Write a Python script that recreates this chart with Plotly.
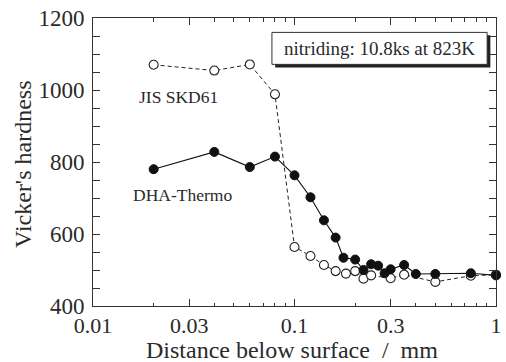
import plotly.graph_objects as go

# Data
jis_x = [0.02, 0.04, 0.06, 0.08, 0.10, 0.12, 0.14, 0.16, 0.18, 0.20, 0.22, 0.24, 0.30, 0.35, 0.50, 0.75, 1.00]
jis_y = [1070, 1054, 1071, 988, 564, 539, 514, 497, 490, 497, 476, 485, 477, 487, 467, 484, 487]

dha_x = [0.02, 0.04, 0.06, 0.08, 0.10, 0.12, 0.14, 0.16, 0.175, 0.20, 0.22, 0.24, 0.26, 0.28, 0.30, 0.35, 0.40, 0.50, 0.75, 1.00]
dha_y = [780, 828, 786, 815, 763, 702, 638, 590, 534, 529, 500, 516, 512, 491, 502, 514, 489, 489, 491, 485]

x_major_ticks = [0.01, 0.03, 0.1, 0.3, 1]
x_major_labels = ["0.01", "0.03", "0.1", "0.3", "1"]
x_minor_ticks = [0.02, 0.04, 0.05, 0.06, 0.07, 0.08, 0.09,
                 0.2, 0.4, 0.5, 0.6, 0.7, 0.8, 0.9]

FONT = "Liberation Serif"
AX = "#333333"
TXT = "#2a2a2a"

fig = go.Figure()

fig.add_trace(go.Scatter(
    x=jis_x, y=jis_y, mode="lines+markers", name="JIS SKD61",
    line=dict(color="#222222", width=1, dash="4px,3px"),
    marker=dict(symbol="circle", size=9, color="white",
                line=dict(color="#222222", width=1.1)),
    cliponaxis=False,
))
fig.add_trace(go.Scatter(
    x=dha_x, y=dha_y, mode="lines+markers", name="DHA-Thermo",
    line=dict(color="#111111", width=1.1),
    marker=dict(symbol="circle", size=9, color="#111111",
                line=dict(color="#111111", width=1)),
    cliponaxis=False,
))

# shadowed box
fig.add_shape(type="rect", xref="paper", yref="paper",
              x0=0.452, x1=0.986, y0=0.828, y1=0.940,
              fillcolor="#222222", line=dict(width=0), layer="above")
fig.add_shape(type="rect", xref="paper", yref="paper",
              x0=0.444, x1=0.978, y0=0.839, y1=0.950,
              fillcolor="white", line=dict(color="#333333", width=1), layer="above")
fig.add_annotation(xref="paper", yref="paper", x=0.711, y=0.8945,
                   text="nitriding: 10.8ks at 823K", showarrow=False,
                   font=dict(family=FONT, size=19, color=TXT),
                   xanchor="center", yanchor="middle")

fig.add_annotation(xref="paper", yref="paper", x=0.109, y=0.725,
                   text="JIS SKD61", showarrow=False,
                   font=dict(family=FONT, size=17.5, color=TXT),
                   xanchor="left", yanchor="middle")
fig.add_annotation(xref="paper", yref="paper", x=0.094, y=0.385,
                   text="DHA-Thermo", showarrow=False,
                   font=dict(family=FONT, size=17.5, color=TXT),
                   xanchor="left", yanchor="middle")

# axis titles
fig.add_annotation(xref="paper", yref="paper", x=0.4926, y=-0.153,
                   text="Distance below surface  /  mm", showarrow=False,
                   font=dict(family=FONT, size=24, color=TXT),
                   xanchor="center", yanchor="middle")
fig.add_annotation(xref="paper", yref="paper", x=-0.172, y=0.492,
                   text="Vicker's hardness", showarrow=False, textangle=-90,
                   font=dict(family=FONT, size=24, color=TXT),
                   xanchor="center", yanchor="middle")

fig.update_layout(
    width=506, height=362,
    margin=dict(l=93, r=10, t=18, b=56),
    paper_bgcolor="white", plot_bgcolor="white",
    showlegend=False,
    font=dict(family=FONT, color=TXT),
)
fig.update_xaxes(
    type="log", range=[-2, 0], automargin=False,
    tickmode="array", tickvals=x_major_ticks, ticktext=x_major_labels,
    ticks="inside", ticklen=7, tickwidth=1, tickcolor=AX,
    minor=dict(tickmode="array", tickvals=x_minor_ticks, ticks="inside",
               ticklen=3.5, tickwidth=1, tickcolor=AX, showgrid=False),
    showline=True, linecolor=AX, linewidth=1, mirror="ticks",
    showgrid=False, zeroline=False, ticklabelstandoff=0,
    tickfont=dict(family=FONT, size=22, color=TXT),
)
fig.update_yaxes(
    range=[400, 1200], tickmode="linear", tick0=400, dtick=200, automargin=False,
    ticks="inside", ticklen=7, tickwidth=1, tickcolor=AX,
    minor=dict(dtick=50, ticks="inside", ticklen=7, tickwidth=1,
               tickcolor=AX, showgrid=False),
    showline=True, linecolor=AX, linewidth=1, mirror="ticks",
    showgrid=False, zeroline=False, ticklabelstandoff=3,
    tickfont=dict(family=FONT, size=23, color=TXT),
)

fig.write_html(
    "out.html",
    config={"displayModeBar": False},
    post_script="document.body.style.margin='0';document.body.style.overflow='hidden';",
)
